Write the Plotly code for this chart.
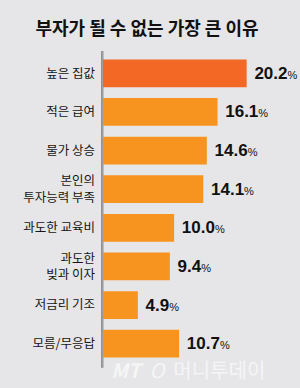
import plotly.graph_objects as go

categories = ["높은 집값", "적은 급여", "물가 상승", "본인의<br>투자능력 부족", "과도한 교육비",
              "과도한<br>빚과 이자", "저금리 기조", "모름/무응답"]
values = [20.2, 16.1, 14.6, 14.1, 10.0, 9.4, 4.9, 10.7]
colors = ["#f26824"] + ["#f7941f"] * 7
title = "부자가 될 수 없는 가장 큰 이유"

fig = go.Figure()
fig.add_trace(go.Bar(
    x=values, y=categories, orientation="h",
    marker=dict(color=colors, line=dict(width=0)),
    width=0.72,
    text=[f" <b>{v:.1f}</b><span style='font-size:11px'>%</span>" for v in values],
    textposition="outside", cliponaxis=False,
    textfont=dict(family="Liberation Sans Narrow, Liberation Sans, Arial", size=17, color="#111"),
    hoverinfo="skip",
))

fig.update_layout(
    width=300, height=388,
    margin=dict(l=103, r=0, t=54, b=25),
    paper_bgcolor="#e6e6e8", plot_bgcolor="#e6e6e8",
    showlegend=False,
    title=dict(text=f"<b>{title}</b>", x=0.49, xanchor="center", y=0.925, yanchor="middle",
               font=dict(family="Noto Sans CJK KR", size=18, color="#111")),
    xaxis=dict(range=[0, 27.7], visible=False, fixedrange=True),
    yaxis=dict(autorange="reversed", showgrid=False, zeroline=False, showline=False,
               ticks="", ticklabelstandoff=7,
               tickfont=dict(family="Noto Sans CJK KR", size=12.5, color="#151515"),
               fixedrange=True),
    bargap=0.28,
)

# axis line with a slight shade
fig.add_shape(type="rect", xref="paper", yref="paper", x0=-0.008, x1=0.004, y0=-0.015, y1=1.01,
              fillcolor="#b3b3b5", line=dict(width=0), layer="below")
fig.add_shape(type="line", xref="paper", yref="paper", x0=-0.006, x1=-0.006, y0=-0.015, y1=1.01,
              line=dict(color="#8e8e90", width=1.5))

# watermark
fig.add_annotation(text="<i><b>MT</b></i>  <i>O</i>  머니투데이", xref="paper", yref="paper",
                   x=0.03, xanchor="left", y=-0.02, yanchor="middle", showarrow=False,
                   font=dict(family="Noto Sans CJK KR", size=20, color="#f5f5f6"))

fig.write_html("out.html")
